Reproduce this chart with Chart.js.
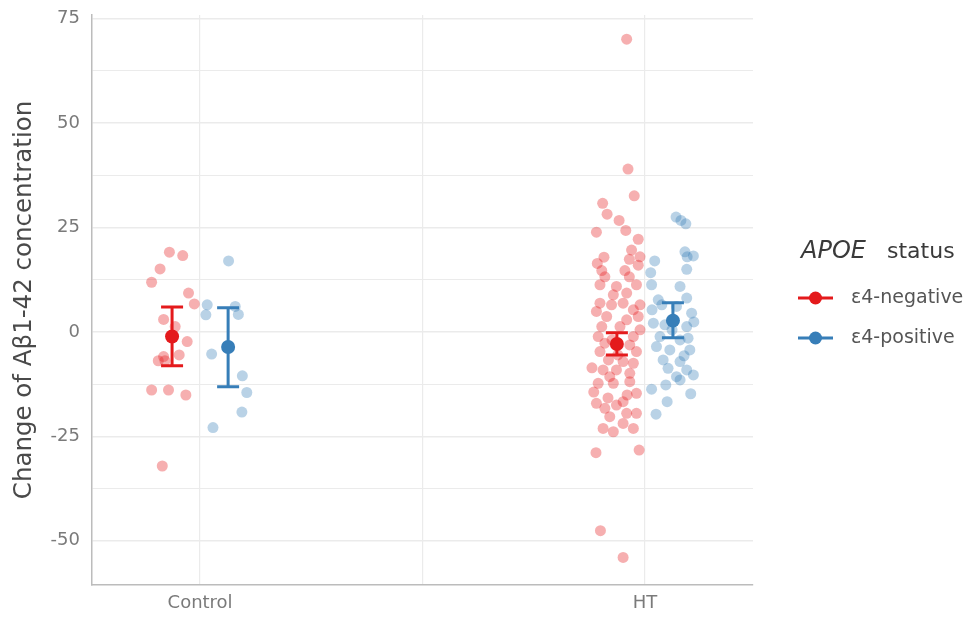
<!DOCTYPE html>
<html>
<head>
<meta charset="utf-8">
<script src="https://cdn.jsdelivr.net/npm/chart.js@4.4.1/dist/chart.umd.min.js"></script>
<style>
  html, body { margin: 0; padding: 0; background: #fff; }
  #wrap { width: 967px; height: 617px; }
</style>
</head>
<body>
<div id="wrap"><canvas id="chart" width="967" height="617"></canvas></div>
<script>
// категории и серии
const groups = ['Control', 'HT'];
const seriesNames = ['ε4-negative', 'ε4-positive'];
const seriesColors = ['#E41A1C', '#377EB8'];
const seriesFill = ['rgba(228,26,28,0.35)', 'rgba(55,126,184,0.35)'];

// отдельные точки: смещение (jitter) в единицах категории и значение
const ctrlNegJitter = [-0.069, -0.039, -0.090, -0.109, -0.026, -0.013, -0.082, -0.056, -0.029, -0.094, -0.082, -0.047, -0.079, -0.109, -0.071, -0.032, -0.085];
const ctrlNegValues = [19.1, 18.3, 15.1, 11.9, 9.3, 6.7, 3.0, 1.3, -2.3, -6.9, -5.9, -5.5, -6.9, -13.9, -13.9, -15.1, -32.1];

const ctrlPosJitter = [0.064, 0.016, 0.013, 0.079, 0.086, 0.026, 0.095, 0.105, 0.094, 0.029];
const ctrlPosValues = [17.0, 6.5, 4.1, 6.1, 4.2, -5.3, -10.5, -14.5, -19.2, -22.9];

const htNegJitter = [-0.041, -0.038, -0.024, -0.095, -0.085, -0.058, -0.043, -0.109, -0.015, -0.030,
  -0.011, -0.092, -0.035, -0.107, -0.015, -0.097, -0.045, -0.090, -0.035, -0.101,
  -0.064, -0.019, -0.071, -0.041, -0.101, -0.075, -0.049, -0.026, -0.109, -0.086,
  -0.041, -0.015, -0.097, -0.056, -0.105, -0.026, -0.090, -0.034, -0.101, -0.019,
  -0.082, -0.049, -0.026, -0.094, -0.064, -0.034, -0.079, -0.105, -0.071, -0.034,
  -0.019, -0.109, -0.090, -0.064, -0.049, -0.079, -0.041, -0.019, -0.094, -0.071,
  -0.049, -0.026, -0.110, -0.013, -0.100, -0.049, -0.074, -0.061, -0.040, -0.115,
  -0.083, -0.011, -0.119, -0.011];
const htNegValues = [70.1, 39.0, 32.6, 30.8, 28.2, 26.7, 24.3, 23.9, 22.2, 19.6,
  18.0, 17.9, 17.4, 16.4, 16.0, 14.7, 14.7, 13.2, 13.2, 11.3,
  10.9, 11.3, 8.9, 9.3, 6.9, 6.5, 6.9, 5.3, 4.9, 3.7,
  2.9, 3.7, 1.3, 1.3, -1.1, -1.1, -2.7, -3.1, -4.7, -4.7,
  -6.7, -7.1, -7.5, -9.1, -9.1, -9.9, -10.7, -12.3, -12.3, -11.9,
  -14.7, -17.1, -18.3, -17.5, -16.7, -20.3, -19.5, -19.5, -23.1, -23.9,
  -21.9, -23.1, -28.9, -28.3, -47.6, -54.0, -1.9, -5.5, -15.1, -14.4,
  -15.8, 6.5, -8.6, 0.5];

const htPosJitter = [0.070, 0.081, 0.092, 0.022, 0.090, 0.109, 0.095, 0.094, 0.013, 0.015,
  0.079, 0.030, 0.094, 0.071, 0.105, 0.019, 0.045, 0.094, 0.034, 0.079,
  0.097, 0.026, 0.056, 0.101, 0.041, 0.079, 0.052, 0.094, 0.071, 0.109,
  0.015, 0.047, 0.079, 0.103, 0.050, 0.025, 0.038, 0.110, 0.061, 0.088, 0.016];
const htPosValues = [27.5, 26.7, 25.9, 17.0, 19.2, 18.2, 18.0, 15.0, 14.2, 11.3,
  10.9, 7.7, 8.1, 6.1, 4.5, 2.1, 1.7, 1.3, -1.1, -1.9,
  -1.5, -3.5, -4.3, -4.3, -6.7, -7.1, -8.7, -9.1, -10.7, -10.3,
  -13.7, -12.7, -11.5, -14.8, -16.7, -19.7, 6.5, 2.4, 0.5, -5.7, 5.3];

// среднее и интервал (Control, HT)
const negMean = [-1.1, -2.9];
const negLow = [-8.1, -5.5];
const negHigh = [6.0, -0.2];
const posMean = [-3.6, 2.7];
const posLow = [-13.1, -1.4];
const posHigh = [5.8, 7.0];

const dodge = 0.063;
const yTickLabels = [-50, -25, 0, 25, 50, 75];

const FONT = "'DejaVu Sans', sans-serif";

function points(center, jitter, values) {
  return values.map((v, i) => ({ x: center + jitter[i], y: v }));
}

const negPoints = points(1, ctrlNegJitter, ctrlNegValues).concat(points(2, htNegJitter, htNegValues));
const posPoints = points(1, ctrlPosJitter, ctrlPosValues).concat(points(2, htPosJitter, htPosValues));

const summary = [
  { mean: negMean, low: negLow, high: negHigh, shift: -dodge },
  { mean: posMean, low: posLow, high: posHigh, shift: dodge }
];

// усы интервалов рисуем перед средними точками
const errorBars = {
  id: 'errorBars',
  beforeDatasetDraw(chart, args) {
    if (args.index > 1) return;
    const s = summary[args.index];
    const xs = chart.scales.x, ys = chart.scales.y;
    const ctx = chart.ctx;
    ctx.save();
    ctx.strokeStyle = seriesColors[args.index];
    ctx.lineWidth = 3;
    s.mean.forEach((m, i) => {
      const px = xs.getPixelForValue(i + 1 + s.shift);
      const lo = ys.getPixelForValue(s.low[i]);
      const hi = ys.getPixelForValue(s.high[i]);
      ctx.beginPath();
      ctx.moveTo(px, lo); ctx.lineTo(px, hi);
      ctx.moveTo(px - 11, lo); ctx.lineTo(px + 11, lo);
      ctx.moveTo(px - 11, hi); ctx.lineTo(px + 11, hi);
      ctx.stroke();
    });
    ctx.restore();
  }
};

// легенда справа
const sideLegend = {
  id: 'sideLegend',
  afterDraw(chart) {
    const ctx = chart.ctx;
    ctx.save();
    ctx.textBaseline = 'middle';
    ctx.fillStyle = '#3a3a3a';
    ctx.font = 'italic 24px ' + FONT;
    ctx.fillText('APOE', 801, 252);
    ctx.font = '22px ' + FONT;
    ctx.fillText('status', 887, 252);

    seriesNames.forEach((name, i) => {
      const y = 298 + i * 40;
      ctx.strokeStyle = seriesColors[i];
      ctx.lineWidth = 3;
      ctx.beginPath();
      ctx.moveTo(798, y); ctx.lineTo(833, y);
      ctx.stroke();
      ctx.fillStyle = seriesColors[i];
      ctx.beginPath();
      ctx.arc(815.5, y, 6.5, 0, Math.PI * 2);
      ctx.fill();
      ctx.fillStyle = '#555';
      ctx.font = '19px ' + FONT;
      ctx.fillText(name, 851, y);
    });
    ctx.restore();
  }
};

new Chart(document.getElementById('chart').getContext('2d'), {
  type: 'scatter',
  data: {
    datasets: [
      {
        label: seriesNames[0] + ' mean',
        data: negMean.map((m, i) => ({ x: i + 1 - dodge, y: m })),
        backgroundColor: seriesColors[0], borderWidth: 0, pointRadius: 7, order: 0
      },
      {
        label: seriesNames[1] + ' mean',
        data: posMean.map((m, i) => ({ x: i + 1 + dodge, y: m })),
        backgroundColor: seriesColors[1], borderWidth: 0, pointRadius: 7, order: 0
      },
      {
        label: seriesNames[0],
        data: negPoints,
        backgroundColor: seriesFill[0], borderWidth: 0, pointRadius: 5.5, order: 1
      },
      {
        label: seriesNames[1],
        data: posPoints,
        backgroundColor: seriesFill[1], borderWidth: 0, pointRadius: 5.5, order: 1
      }
    ]
  },
  options: {
    responsive: false,
    animation: false,
    layout: { padding: { left: 0, top: 15, right: 214, bottom: 0 } },
    plugins: { legend: { display: false }, tooltip: { enabled: false } },
    scales: {
      x: {
        type: 'linear',
        min: 0.757,
        max: 2.243,
        afterFit(scale) { scale.height = 32; },
        afterBuildTicks(scale) { scale.ticks = [1, 1.5, 2].map(v => ({ value: v })); },
        ticks: {
          padding: 8,
          color: '#7a7a7a',
          font: { family: FONT, size: 18 },
          callback: v => (v === 1 ? groups[0] : v === 2 ? groups[1] : '')
        },
        grid: { color: '#ebebeb', lineWidth: 1.2, drawTicks: false },
        border: { display: true, color: '#bcbcbc', width: 1.5 }
      },
      y: {
        min: -60.6,
        max: 75.9,
        afterFit(scale) {
          scale.width = 92;
          scale.paddingTop = 0;
          scale.paddingBottom = 0;
        },
        afterBuildTicks(scale) {
          const t = [];
          for (let v = -50; v <= 75; v += 12.5) t.push({ value: v });
          scale.ticks = t;
        },
        ticks: {
          padding: 12,
          color: '#7a7a7a',
          font: { family: FONT, size: 18 },
          callback: v => (yTickLabels.includes(v) ? String(v) : '')
        },
        grid: {
          color: '#ebebeb',
          lineWidth: ctx => (yTickLabels.includes(ctx.tick && ctx.tick.value) ? 1.5 : 1),
          drawTicks: false
        },
        border: { display: true, color: '#bcbcbc', width: 1.5 },
        title: {
          display: true,
          text: 'Change of Aβ1-42 concentration',
          color: '#4a4a4a',
          font: { family: FONT, size: 24.5 },
          padding: { top: 10, bottom: 0 }
        }
      }
    }
  },
  plugins: [errorBars, sideLegend]
});
</script>
</body>
</html>
